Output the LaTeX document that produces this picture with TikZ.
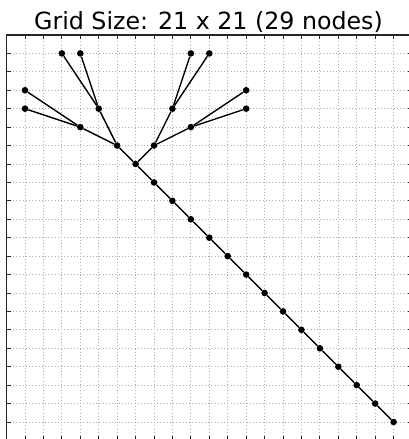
\documentclass[tikz,border=0pt]{standalone}
\usepackage{fontspec}
\setmainfont{DejaVu Sans}
\begin{document}
\begin{tikzpicture}[x=1pt,y=-1pt,
  dot/.style={circle,fill=black,inner sep=0pt,minimum size=6.6pt},
  edge/.style={line width=1.4pt,black},
  gridline/.style={gray!65,line width=0.8pt,dash pattern=on 1pt off 2.2pt},
  spine/.style={line width=1.1pt,black!85},
  tick/.style={line width=0.9pt,black!85}]
\useasboundingbox (0,0) rectangle (409,439);
\def\xo{25}\def\yo{53.4}\def\s{18.43}
% grid
\foreach \i in {0,...,20}{
  \draw[gridline] ({\xo+\i*\s},{\yo-\s}) -- ({\xo+\i*\s},{\yo+21*\s});
  \draw[gridline] ({\xo-\s},{\yo+\i*\s}) -- ({\xo+21*\s},{\yo+\i*\s});
}
% ticks
\foreach \i in {0,...,20}{
  \draw[tick] ({\xo+\i*\s},{\yo-\s}) -- ++(0,4.5);
  \draw[tick] ({\xo+\i*\s},{\yo+21*\s}) -- ++(0,-4.5);
  \draw[tick] ({\xo-\s},{\yo+\i*\s}) -- ++(4.5,0);
  \draw[tick] ({\xo+21*\s},{\yo+\i*\s}) -- ++(-4.5,0);
}
\draw[spine] ({\xo-\s},{\yo-\s}) rectangle ({\xo+21*\s},{\yo+21*\s});
% title
\node[anchor=base,font=\fontsize{23.7}{26}\selectfont,inner sep=0pt] (title) at (208.5,29.3) {Grid Size: 21 x 21 (29 nodes)};
% nodes
\foreach \c/\r in {2/0,3/0,9/0,10/0,0/2,12/2,0/3,4/3,8/3,12/3,3/4,9/4,5/5,7/5}{
  \node[dot] (n\c-\r) at ({\xo+\c*\s},{\yo+\r*\s}) {};
}
\foreach \k in {6,...,20}{
  \node[dot] (n\k-\k) at ({\xo+\k*\s},{\yo+\k*\s}) {};
}
% edges
\foreach \a/\b in {n2-0/n4-3,n3-0/n4-3,n4-3/n5-5,n0-2/n3-4,n0-3/n3-4,n3-4/n5-5,n5-5/n6-6,
  n9-0/n8-3,n10-0/n8-3,n8-3/n7-5,n12-2/n9-4,n12-3/n9-4,n9-4/n7-5,n7-5/n6-6}{
  \draw[edge] (\a) -- (\b);
}
\foreach \k [evaluate=\k as \kk using int(\k+1)] in {6,...,19}{
  \draw[edge] (n\k-\k) -- (n\kk-\kk);
}
\end{tikzpicture}
\end{document}
